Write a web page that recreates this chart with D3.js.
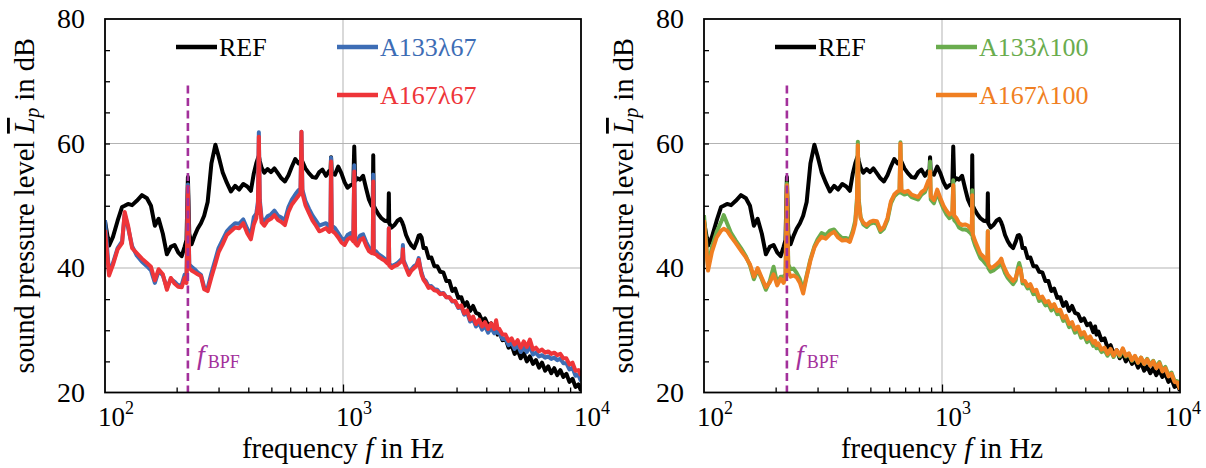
<!DOCTYPE html>
<html>
<head>
<meta charset="utf-8">
<script src="https://cdn.jsdelivr.net/npm/d3@7"></script>
<style>
  body { margin: 0; background: #fff; }
  text { font-family: "Liberation Serif", "Times New Roman", serif; }
</style>
</head>
<body>
<script>
// frequency grid in Hz, shared by every series
var freq = [100,104,108,113,118,121,125,130,136,143,
  150,156,162,168,175,182,189,196,203,210,
  216,220,223,226,231,238,245,253,261,270,
  280,291,300,312,325,338,352,366,381,396,
  410,422,432,439,443,447,455,467,482,498,
  515,533,551,570,590,610,630,650,663,669,
  675,695,720,745,770,795,820,848,875,886,
  891,897,925,955,985,1015,1045,1075,1105,1115,
  1125,1150,1180,1215,1250,1285,1320,1334,1340,1346,
  1375,1410,1450,1495,1540,1552,1558,1564,1600,1645,
  1695,1740,1775,1785,1795,1840,1890,1940,1990,2040,
  2080,2110,2140,2180,2230,2290,2350,2420,2490,2560,
  2640,2720,2800,2880,2960,3050,3140,3230,3320,3420,
  3520,3620,3730,3840,3950,4070,4190,4320,4400,4460,
  4540,4680,4820,4960,5110,5260,5420,5580,5750,5920,
  6100,6280,6470,6660,6860,7070,7280,7500,7720,7950,
  8190,8430,8680,8940,9210,9480,9760,10000];

// sound pressure level in dB
var ref = [47.5,43.6,45.0,47.6,49.8,50.0,50.3,50.1,50.8,51.7,
  51.2,50.0,46.8,47.9,45.5,42.2,43.4,43.7,42.5,41.9,
  43.4,44.5,54.6,45.5,43.8,45.2,46.3,47.2,48.4,50.6,
  56.8,59.8,58.0,55.4,53.7,52.3,53.2,52.6,53.5,53.1,
  52.4,55.2,56.8,57.6,58.0,57.2,56.1,55.3,55.9,55.4,
  56.0,55.2,54.4,53.9,54.9,56.3,57.5,56.8,57.2,56.9,
  57.1,56.0,55.2,54.6,54.5,55.4,55.8,54.8,55.6,55.6,
  57.8,55.2,55.0,56.3,55.2,53.8,52.9,53.3,53.5,59.5,
  54.0,54.4,54.2,54.8,52.8,51.0,50.0,50.2,58.1,50.0,
  49.3,48.6,48.0,47.6,47.5,48.0,52.0,47.2,46.5,46.9,
  47.6,47.9,47.3,47.0,46.8,45.3,44.3,43.6,43.2,44.2,
  45.2,45.3,44.9,43.2,43.2,41.6,41.7,40.3,40.3,39.4,
  39.3,37.9,37.9,36.3,36.7,35.2,35.3,33.9,34.5,33.1,
  33.9,32.8,32.6,31.5,31.9,30.8,31.1,29.7,30.6,29.3,
  29.8,28.4,28.7,27.2,27.6,26.2,26.8,25.5,26.3,25.0,
  25.8,24.6,25.2,24.0,24.8,23.5,24.2,23.1,23.9,22.8,
  23.6,22.5,23.0,21.7,22.2,20.9,21.3,20.3];

var a133l67 = [47.7,39.2,40.8,43.2,44.3,48.6,46.5,43.5,42.0,41.0,
  40.3,39.6,37.6,39.5,38.8,36.8,38.2,37.8,37.2,37.3,
  38.9,38.2,53.4,40.6,40.2,39.8,39.3,38.9,36.9,36.8,
  39.2,41.4,43.2,44.5,45.9,46.6,47.2,47.1,47.8,46.3,
  45.3,48.2,48.7,50.6,61.8,51.0,48.0,47.5,48.3,48.6,
  49.2,48.4,48.1,47.7,49.8,51.0,51.8,52.5,52.7,61.9,
  52.6,50.8,49.5,48.4,47.6,46.8,47.0,47.2,46.6,47.2,
  57.7,46.8,46.4,45.6,44.8,44.5,45.3,45.6,45.0,56.5,
  44.8,44.3,45.2,45.4,44.2,43.3,42.9,43.1,55.0,42.8,
  42.7,42.2,41.9,41.5,41.0,41.2,46.4,40.7,40.3,40.5,
  40.8,41.2,41.6,43.7,41.3,40.3,39.2,39.8,40.3,40.6,
  41.6,40.2,39.2,38.3,37.9,37.0,37.1,36.6,36.5,35.9,
  36.0,35.3,35.3,34.6,34.6,33.6,33.8,32.5,32.9,31.4,
  31.8,30.6,31.2,30.1,30.7,29.6,30.4,29.5,30.7,29.6,
  29.5,28.6,28.6,27.6,28.0,27.0,27.7,26.5,27.4,26.5,
  27.5,26.1,26.4,25.8,26.0,25.6,25.8,25.4,25.6,25.2,
  25.4,24.7,24.7,23.7,24.0,22.7,22.8,21.8];

var a167l67 = [46.1,38.8,40.5,43.0,44.0,49.0,46.8,43.2,42.4,41.5,
  40.8,40.2,38.0,39.8,39.0,36.5,38.4,37.5,37.0,36.9,
  38.4,37.6,53.0,40.0,39.6,39.3,39.0,38.7,36.6,36.3,
  38.5,40.7,42.5,43.8,45.3,45.9,46.5,46.4,47.2,45.6,
  44.6,47.0,48.0,50.0,61.1,50.5,47.3,46.8,47.6,47.9,
  48.5,47.7,47.4,46.9,49.0,50.2,50.9,51.6,52.0,61.9,
  52.0,50.1,48.8,47.6,46.8,45.9,46.1,46.4,45.8,46.5,
  57.1,46.0,45.6,44.9,44.1,43.7,44.6,44.9,44.3,55.5,
  44.0,43.6,44.5,44.8,43.6,42.7,42.4,42.6,53.9,42.3,
  42.2,41.8,41.5,41.2,40.7,41.0,46.4,40.4,40.0,40.3,
  40.5,40.9,41.2,43.0,41.0,40.0,38.9,39.6,40.0,40.4,
  41.3,40.0,38.9,38.1,37.6,36.8,36.9,36.4,36.3,35.8,
  35.9,35.3,35.3,34.7,34.7,33.7,34.0,32.7,33.2,31.7,
  32.2,31.0,31.7,30.6,31.3,30.2,31.1,30.2,31.6,30.3,
  30.2,29.3,29.3,28.3,28.7,27.7,28.4,27.2,28.2,27.3,
  28.5,26.9,27.2,26.6,26.9,26.4,26.6,26.2,26.4,26.0,
  26.2,25.5,25.5,24.5,24.8,23.5,23.6,22.7];

var a133l100 = [48.5,40.2,43.4,45.8,47.4,48.5,47.2,45.6,44.4,43.2,
  41.9,40.4,38.2,39.7,38.2,36.5,37.9,40.2,37.6,38.6,
  38.6,39.0,53.6,40.6,39.8,39.9,39.2,38.2,36.4,38.8,
  41.4,43.5,44.6,45.6,45.3,46.0,46.2,45.4,44.8,44.8,
  44.6,46.0,47.6,51.0,60.3,51.0,48.2,47.0,46.6,47.1,
  47.3,47.1,45.8,46.3,47.7,50.4,51.5,52.0,52.2,60.2,
  52.1,51.8,52.0,51.4,51.2,51.0,51.8,52.2,53.6,53.3,
  57.1,51.0,50.4,52.1,50.7,49.5,48.6,48.0,48.3,54.1,
  47.7,47.3,46.5,46.2,46.2,46.0,45.6,45.3,52.5,44.8,
  43.7,42.7,41.6,41.1,40.5,40.4,45.9,40.0,39.4,39.6,
  40.0,40.4,40.9,40.7,40.3,39.2,38.4,37.9,37.4,38.0,
  39.9,40.8,39.9,37.5,37.5,36.7,36.9,35.8,36.0,34.7,
  34.9,34.0,34.2,33.2,33.7,32.6,32.8,31.5,31.8,30.5,
  30.8,29.6,30.1,28.8,29.2,28.1,28.5,27.5,27.8,27.1,
  27.4,26.5,26.8,25.9,26.7,25.7,26.6,25.8,26.9,25.8,
  26.2,25.1,25.8,24.8,25.6,24.6,25.4,24.4,25.1,24.1,
  24.9,23.6,24.1,22.8,23.2,21.9,21.8,20.7];

var a167l100 = [47.7,39.6,42.6,44.9,46.0,46.3,46.0,45.0,44.0,42.8,
  41.7,40.6,38.6,40.0,38.4,36.9,37.7,39.0,37.2,38.3,
  37.6,38.4,53.3,39.6,38.6,38.8,38.5,37.6,35.9,38.6,
  41.2,43.3,44.2,45.0,44.7,45.4,45.8,44.9,44.4,44.5,
  44.2,45.6,47.1,50.5,59.7,50.5,48.0,47.3,46.9,47.4,
  47.6,47.5,46.1,46.6,48.0,50.7,51.8,52.3,52.5,60.0,
  52.5,52.2,52.4,51.8,51.6,51.4,52.2,52.6,54.0,53.6,
  55.5,51.5,50.9,52.6,51.2,50.0,49.2,48.6,48.9,53.3,
  48.4,48.0,47.2,46.9,47.0,46.8,46.3,46.0,51.7,45.5,
  44.4,43.4,42.3,41.8,41.2,41.0,45.9,40.6,40.0,40.2,
  40.6,41.0,41.5,41.2,40.8,39.8,38.9,38.4,37.9,38.4,
  39.5,40.0,39.7,37.9,37.9,37.1,37.4,36.3,36.5,35.2,
  35.4,34.5,34.7,33.7,34.2,33.1,33.3,32.0,32.3,31.0,
  31.3,30.1,30.6,29.3,29.7,28.6,29.0,28.0,28.3,27.6,
  27.9,26.9,27.2,26.2,27.0,25.9,26.8,26.0,27.1,25.9,
  26.3,25.2,25.9,24.8,25.6,24.6,25.3,24.3,25.0,23.9,
  24.7,23.4,23.9,22.6,23.0,21.7,21.6,20.5];

var yTicks = [20, 40, 60, 80];
var xTicks = [100, 1000, 10000];
var bpf = 223;      // blade passing frequency in Hz
var bpfTop = 69.3;  // top of the dashed marker in dB

var W = 1206, H = 468;
var plotTop = 19, plotBottom = 392.5;

var svg = d3.select('body').append('svg')
  .attr('width', W)
  .attr('height', H)
  .style('background', '#fff');

var panels = [
  { left: 105, right: 581,
    series: [
      { name: 'REF', v: ref, color: '#000000' },
      { name: 'A133\u03bb67', v: a133l67, color: '#3d6db5' },
      { name: 'A167\u03bb67', v: a167l67, color: '#ee3539' }
    ] },
  { left: 704, right: 1180,
    series: [
      { name: 'REF', v: ref, color: '#000000' },
      { name: 'A133\u03bb100', v: a133l100, color: '#6aac4e' },
      { name: 'A167\u03bb100', v: a167l100, color: '#f07f22' }
    ] }
];

var y = d3.scaleLinear().domain([20, 80]).range([plotBottom, plotTop]);

panels.forEach(function(p, pi) {
  var x = d3.scaleLog().domain([100, 10000]).range([p.left, p.right]);
  var g = svg.append('g');

  // grid
  g.selectAll('.hgrid').data([40, 60]).enter().append('line')
    .attr('x1', p.left).attr('x2', p.right)
    .attr('y1', function(d) { return y(d); })
    .attr('y2', function(d) { return y(d); })
    .attr('stroke', '#b3b3b3').attr('stroke-width', 1);
  g.append('line')
    .attr('x1', x(1000)).attr('x2', x(1000))
    .attr('y1', plotTop).attr('y2', plotBottom)
    .attr('stroke', '#b3b3b3').attr('stroke-width', 1);

  // minor ticks, pointing inwards
  var yAxis = d3.axisLeft(y).tickValues(d3.range(25, 80, 5)).tickSize(-5).tickFormat('');
  g.append('g').attr('transform', 'translate(' + p.left + ',0)').call(yAxis)
    .call(function(s) { s.select('.domain').remove(); })
    .selectAll('line').attr('stroke', '#000').attr('stroke-width', 1.3);

  var minorX = [200,300,400,500,600,700,800,900,2000,3000,4000,5000,6000,7000,8000,9000];
  var xAxis = d3.axisBottom(x).tickValues(minorX).tickSize(-5).tickFormat('');
  g.append('g').attr('transform', 'translate(0,' + plotBottom + ')').call(xAxis)
    .call(function(s) { s.select('.domain').remove(); })
    .selectAll('line').attr('stroke', '#000').attr('stroke-width', 1.3);
  var xMajor = d3.axisBottom(x).tickValues([1000]).tickSize(-8).tickFormat('');
  g.append('g').attr('transform', 'translate(0,' + plotBottom + ')').call(xMajor)
    .call(function(s) { s.select('.domain').remove(); })
    .selectAll('line').attr('stroke', '#000').attr('stroke-width', 1.3);

  // curves
  var clipId = 'clip' + pi;
  svg.append('clipPath').attr('id', clipId).append('rect')
    .attr('x', p.left).attr('y', plotTop)
    .attr('width', p.right - p.left).attr('height', plotBottom - plotTop);

  var line = d3.line()
    .x(function(d, i) { return x(freq[i]); })
    .y(function(d) { return y(d); });

  g.append('g').attr('clip-path', 'url(#' + clipId + ')')
    .selectAll('path').data(p.series).enter().append('path')
    .attr('d', function(s) { return line(s.v); })
    .attr('fill', 'none')
    .attr('stroke', function(s) { return s.color; })
    .attr('stroke-width', 4)
    .attr('stroke-linejoin', 'round');

  // blade passing frequency marker
  g.append('line')
    .attr('x1', x(bpf)).attr('x2', x(bpf))
    .attr('y1', y(bpfTop)).attr('y2', plotBottom)
    .attr('stroke', '#a3309b').attr('stroke-width', 2.6)
    .attr('stroke-dasharray', '8,4.5');
  var fb = g.append('text')
    .attr('x', x(bpf) + 9).attr('y', 364)
    .attr('fill', '#a3309b').attr('font-size', 28);
  fb.append('tspan').attr('font-style', 'italic').text('f');
  fb.append('tspan').attr('font-size', 18).attr('dx', 3).attr('dy', 4).text('BPF');

  // frame
  g.append('rect')
    .attr('x', p.left).attr('y', plotTop)
    .attr('width', p.right - p.left).attr('height', plotBottom - plotTop)
    .attr('fill', 'none').attr('stroke', '#000').attr('stroke-width', 1.8);

  // tick labels
  g.selectAll('.ylab').data(yTicks).enter().append('text')
    .attr('x', p.left - 20)
    .attr('y', function(d) { return y(d) + 9; })
    .attr('text-anchor', 'end')
    .attr('font-size', 28)
    .text(function(d) { return d; });

  xTicks.forEach(function(t) {
    var tx = g.append('text')
      .attr('x', x(t) - 7).attr('y', 426)
      .attr('font-size', 27);
    tx.append('tspan').text('10');
    tx.append('tspan').attr('font-size', 18).attr('dy', -12)
      .text(Math.round(Math.log10(t)));
    // keep the last label inside the picture
    var bb = tx.node().getBBox();
    if (bb.x + bb.width > W - 5) tx.attr('x', W - 5 - bb.width);
  });

  // axis titles
  var xt = g.append('text')
    .attr('x', (p.left + p.right) / 2).attr('y', 458)
    .attr('text-anchor', 'middle').attr('font-size', 29);
  xt.append('tspan').text('frequency ');
  xt.append('tspan').attr('font-style', 'italic').text('f');
  xt.append('tspan').text(' in Hz');

  var yt = g.append('text')
    .attr('transform', 'translate(' + (p.left - 71) + ',' + ((plotTop + plotBottom) / 2) + ') rotate(-90)')
    .attr('text-anchor', 'middle').attr('font-size', 28.5);
  yt.append('tspan').text('sound pressure level ');
  yt.append('tspan').attr('font-style', 'italic')
    .style('text-decoration', 'overline').text('L');
  yt.append('tspan').attr('font-style', 'italic').attr('font-size', 20).attr('dy', 5).text('p');
  yt.append('tspan').attr('dy', -5).text(' in dB');

  // legend
  var leg = [
    { s: p.series[0], lx: 71, ly: 47 },
    { s: p.series[1], lx: 232, ly: 47 },
    { s: p.series[2], lx: 232, ly: 95 }
  ];
  leg.forEach(function(l) {
    g.append('line')
      .attr('x1', p.left + l.lx).attr('x2', p.left + l.lx + 41)
      .attr('y1', l.ly).attr('y2', l.ly)
      .attr('stroke', l.s.color).attr('stroke-width', 4.5);
    g.append('text')
      .attr('x', p.left + l.lx + 43).attr('y', l.ly + 9)
      .attr('font-size', 26)
      .attr('fill', l.s.color)
      .text(l.s.name);
  });
});
</script>
</body>
</html>
